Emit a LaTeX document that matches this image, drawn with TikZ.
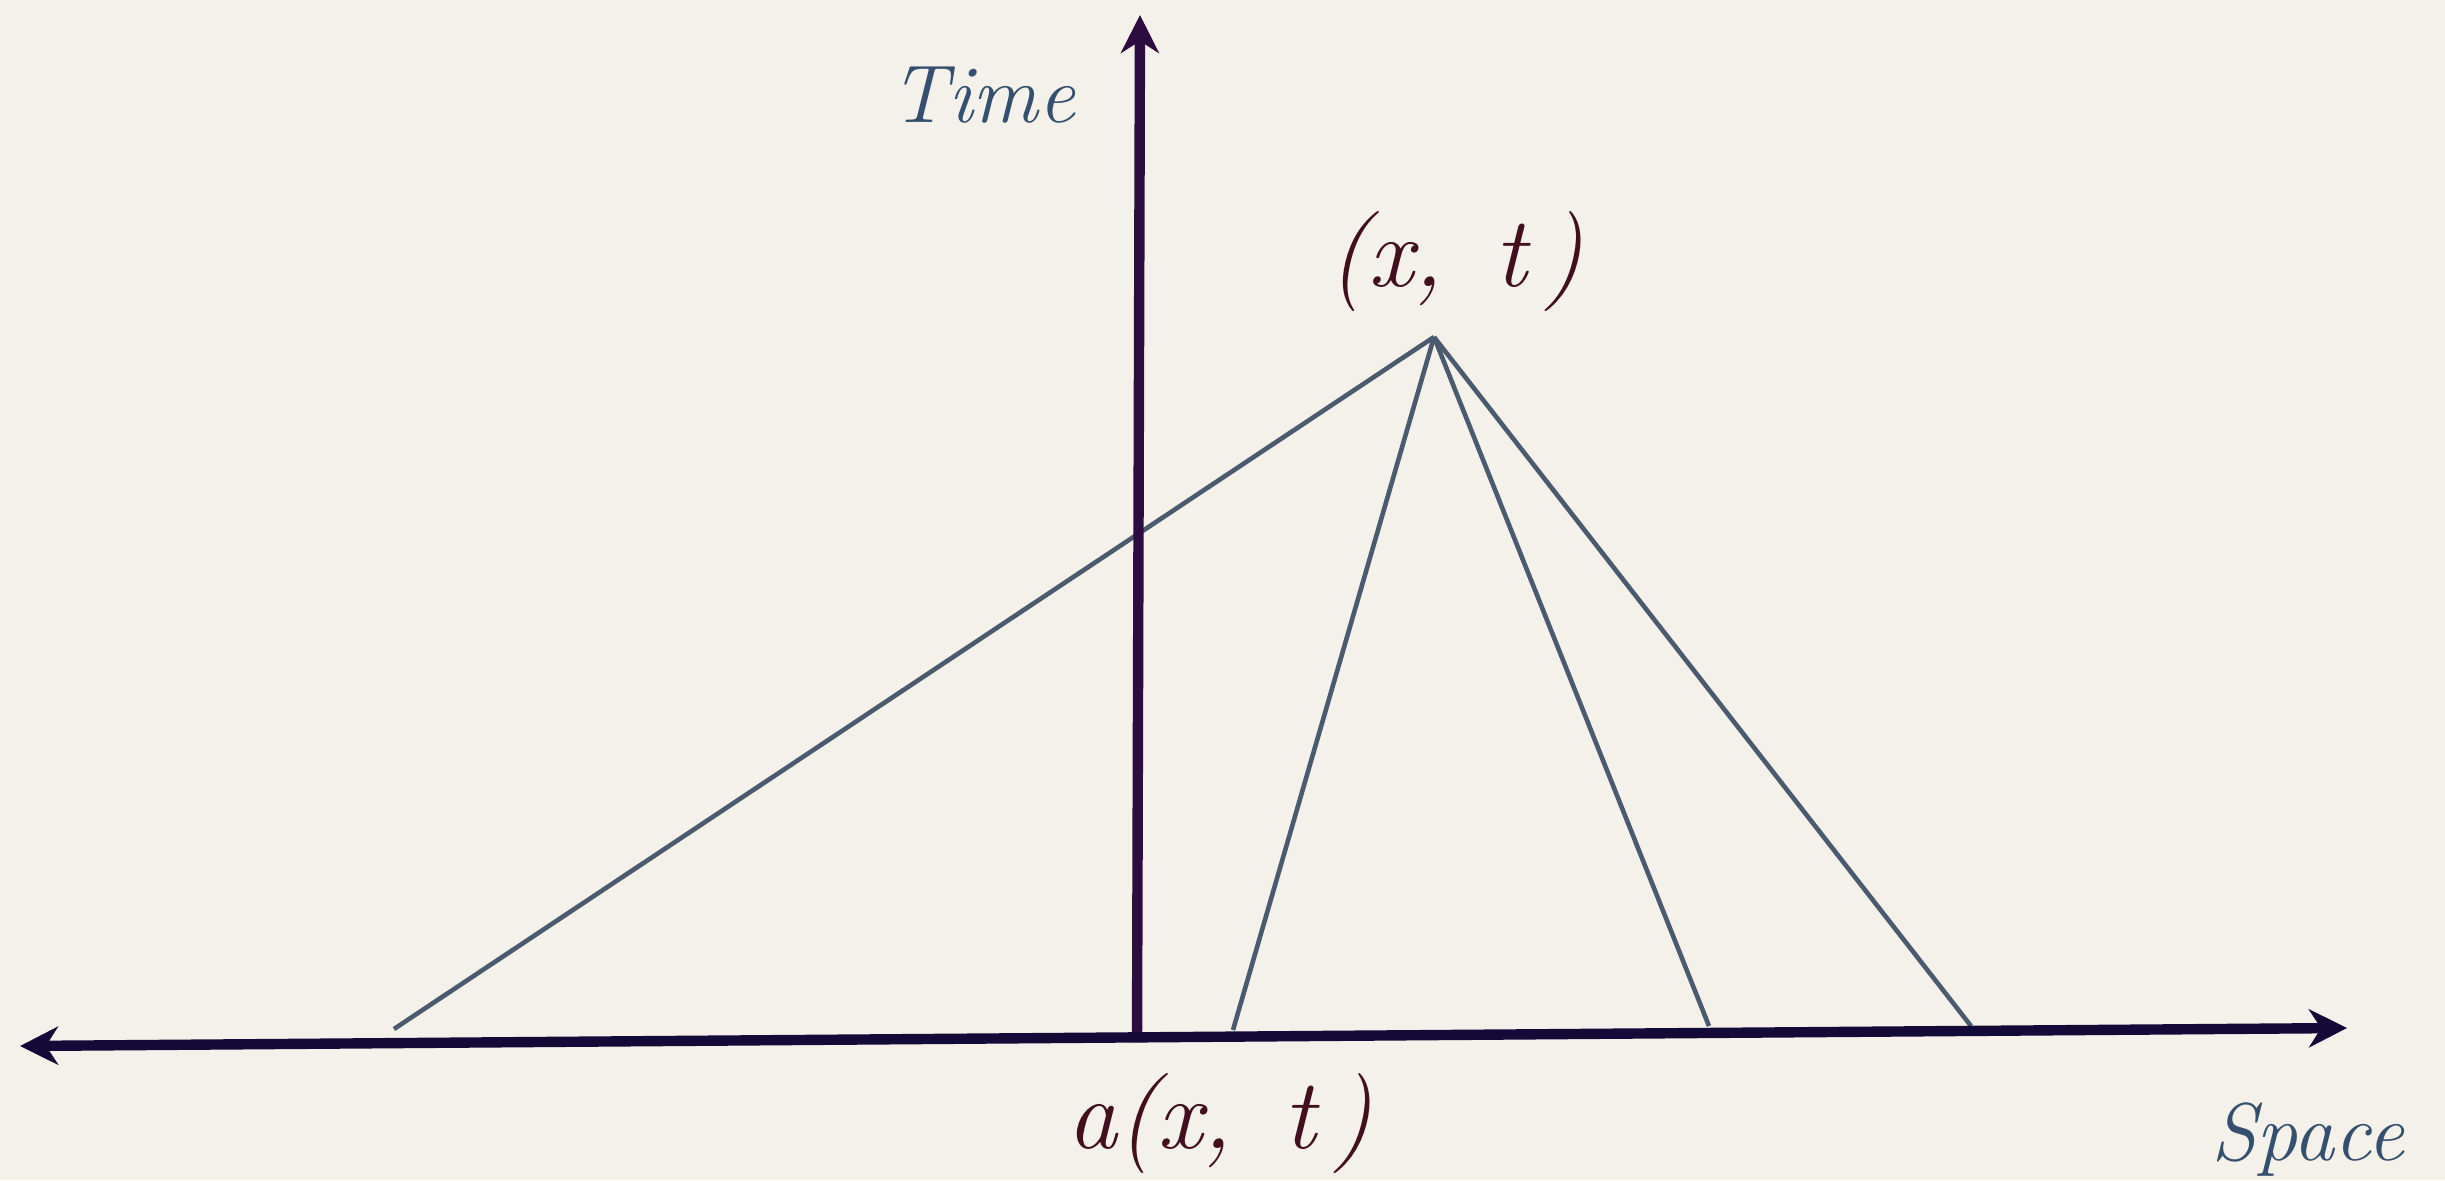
\documentclass[tikz,border=0pt]{standalone}
\usetikzlibrary{arrows.meta}
\definecolor{bgc}{HTML}{F4F1EA}
\definecolor{axh}{HTML}{140A38}
\definecolor{axv}{HTML}{2D0D40}
\definecolor{rayc}{HTML}{4B5A6E}
\definecolor{lblue}{HTML}{35506E}
\definecolor{lred}{HTML}{420F1E}
\tikzset{tip/.tip={Stealth[length=19pt,width=19pt,inset=6pt]}}
\begin{document}
\begin{tikzpicture}[x=0.5pt,y=-0.5pt,
  axis/.style={line width=5.2pt},
  ray/.style={line width=2.3pt,rayc},
  bluelbl/.style={text=lblue,font=\fontsize{41}{48}\selectfont\itshape},
  redlbl/.style={text=lred,font=\fontsize{50}{58}\selectfont\itshape}]
\fill[bgc] (0,0) rectangle (2445,1180);
\useasboundingbox (0,0) rectangle (2445,1180);
\coordinate (L) at (20,1046);
\coordinate (R) at (2347,1028);
\coordinate (B) at (1137,1042);
\coordinate (T) at (1140,15);
\coordinate (P) at (1434,337);
\coordinate (e1) at (394,1029);
\coordinate (e2) at (1233,1030);
\coordinate (e3) at (1709,1026);
\coordinate (e4) at (1971,1026);
\draw[ray] (e1) -- (P);
\draw[ray] (e2) -- (P);
\draw[ray] (e3) -- (P);
\draw[ray] (e4) -- (P);
\draw[axis,axv,-tip] (B) -- (T);
\draw[axis,axh,tip-tip] (L) -- (R);
\node[bluelbl] (time) at (983,95) {Time};
\node[bluelbl] (space) at (2308,1140) {Space};
\node[redlbl] (xt) at (1456,262) {(x,\, t\,)};
\node[redlbl] (axt) at (1220,1124) {a(x,\, t\,)};
\end{tikzpicture}
\end{document}
